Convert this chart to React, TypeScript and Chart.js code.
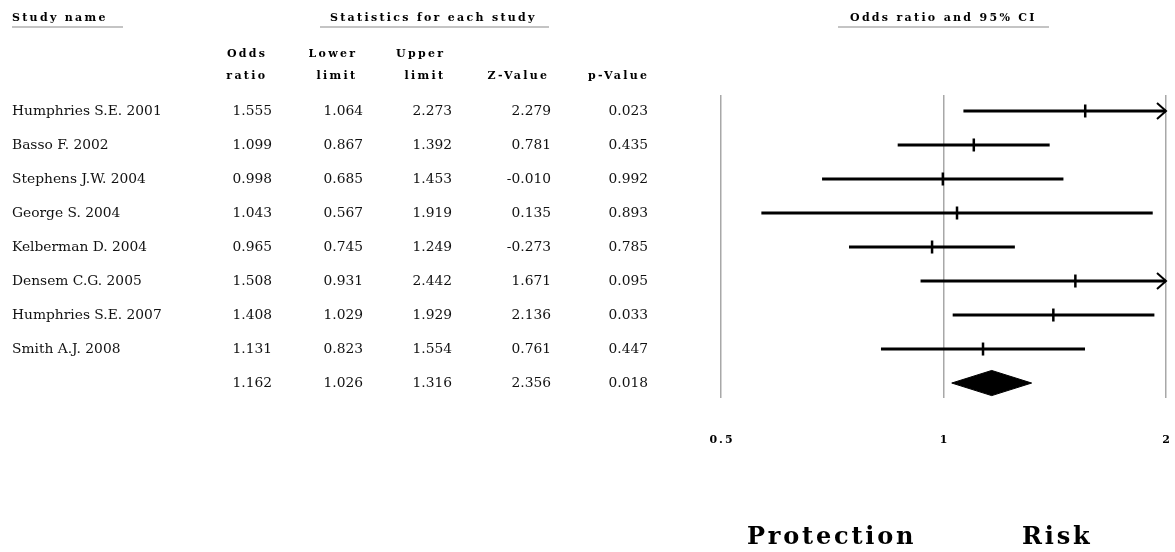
import React, { useEffect, useRef } from "react";
import { Chart, registerables } from "chart.js";

Chart.register(...registerables);

// ---------------- data ----------------
const studyNames = [
  "Humphries S.E. 2001",
  "Basso F. 2002",
  "Stephens J.W. 2004",
  "George S. 2004",
  "Kelberman D. 2004",
  "Densem C.G. 2005",
  "Humphries S.E. 2007",
  "Smith A.J. 2008",
];
const oddsRatios = [1.555, 1.099, 0.998, 1.043, 0.965, 1.508, 1.408, 1.131];
const lowerLimits = [1.064, 0.867, 0.685, 0.567, 0.745, 0.931, 1.029, 0.823];
const upperLimits = [2.273, 1.392, 1.453, 1.919, 1.249, 2.442, 1.929, 1.554];
const zValues = [2.279, 0.781, -0.01, 0.135, -0.273, 1.671, 2.136, 0.761];
const pValues = [0.023, 0.435, 0.992, 0.893, 0.785, 0.095, 0.033, 0.447];
// pooled: odds ratio, lower, upper, Z, p
const summaryStats = [1.162, 1.026, 1.316, 2.356, 0.018];

const xTickValues = [0.5, 1, 2];
const xTickLabels = ["0.5", "1", "2"];
const groupTitles = ["Study name", "Statistics for each study", "Odds ratio and 95% CI"];
const columnHeaderTop = ["Odds", "Lower", "Upper", "", ""];
const columnHeaderBottom = ["ratio", "limit", "limit", "Z-Value", "p-Value"];
const directionLabels = ["Protection", "Risk"];

// ---------------- layout / style constants ----------------
const W = 1175;
const H = 552;
const X_MIN = 0.5;
const X_MAX = 2;
const SUMMARY_ROW = studyNames.length;
const DIAMOND_HALF = 0.37;
const FONT = "'DejaVu Serif', 'Liberation Serif', serif";
const NUM_RIGHT = [272, 363, 452, 551, 648];
const HEAD_RIGHT = [265, 355, 443, 547, 647];
const TITLE_X = [12, 330, 850];
const UNDERLINES = [
  [12, 123],
  [320, 549],
  [838, 1049],
];
const DIRECTION_X = [747, 1022];
const TICK_LABEL_Y = 440;

const tablePlugin = {
  id: "forestTable",
  beforeDraw(chart: any) {
    const ctx = chart.ctx;
    ctx.save();
    ctx.fillStyle = "#fff";
    ctx.fillRect(0, 0, chart.width, chart.height);
    ctx.restore();
  },
  afterDatasetsDraw(chart: any) {
    const ctx = chart.ctx as CanvasRenderingContext2D;
    const xs = chart.scales.x;
    const ys = chart.scales.y;
    ctx.save();
    ctx.strokeStyle = "#000";
    ctx.lineWidth = 2;
    upperLimits.forEach((u, i) => {
      if (u > X_MAX) {
        const tip = xs.getPixelForValue(X_MAX);
        const y = ys.getPixelForValue(i);
        ctx.beginPath();
        ctx.moveTo(tip - 9, y - 8);
        ctx.lineTo(tip, y);
        ctx.lineTo(tip - 9, y + 8);
        ctx.stroke();
      }
    });
    ctx.restore();
  },
  afterDraw(chart: any) {
    const ctx = chart.ctx as CanvasRenderingContext2D;
    const xs = chart.scales.x;
    const ys = chart.scales.y;
    ctx.save();
    ctx.fillStyle = "#000";
    ctx.textBaseline = "middle";

    // x tick labels taken from the log scale's ticks
    ctx.font = `bold 11px ${FONT}`;
    (ctx as any).letterSpacing = "2px";
    ctx.textAlign = "left";
    xs.ticks.forEach((t: any) => {
      const idx = xTickValues.indexOf(t.value);
      if (idx >= 0) {
        const label = xTickLabels[idx];
        const w = ctx.measureText(label).width;
        ctx.fillText(label, xs.getPixelForValue(t.value) - (w - 2) / 2, TICK_LABEL_Y);
      }
    });

    // group titles
    const hs = 2.3;
    (ctx as any).letterSpacing = `${hs}px`;
    ctx.textAlign = "left";
    groupTitles.forEach((t, i) => ctx.fillText(t, TITLE_X[i], 18));
    ctx.strokeStyle = "#c4c4c4";
    ctx.lineWidth = 2;
    UNDERLINES.forEach(([a, b]) => {
      ctx.beginPath();
      ctx.moveTo(a, 27);
      ctx.lineTo(b, 27);
      ctx.stroke();
    });

    // column headers
    ctx.textAlign = "right";
    columnHeaderTop.forEach((t, i) => {
      if (t) ctx.fillText(t, HEAD_RIGHT[i] + hs, 54);
    });
    columnHeaderBottom.forEach((t, i) => {
      if (t) ctx.fillText(t, HEAD_RIGHT[i] + hs, 76);
    });

    // rows
    (ctx as any).letterSpacing = "0px";
    ctx.font = `13.8px ${FONT}`;
    ctx.fillStyle = "#111";
    studyNames.forEach((name, i) => {
      const y = ys.getPixelForValue(i);
      ctx.textAlign = "left";
      ctx.fillText(name, 12, y);
      ctx.textAlign = "right";
      const vals = [oddsRatios[i], lowerLimits[i], upperLimits[i], zValues[i], pValues[i]];
      vals.forEach((v, c) => ctx.fillText(v.toFixed(3), NUM_RIGHT[c], y));
    });
    const ySum = ys.getPixelForValue(SUMMARY_ROW);
    ctx.textAlign = "right";
    summaryStats.forEach((v, c) => ctx.fillText(v.toFixed(3), NUM_RIGHT[c], ySum));

    // direction labels
    const ds = 2.8;
    ctx.fillStyle = "#000";
    ctx.font = `bold 24px ${FONT}`;
    (ctx as any).letterSpacing = `${ds}px`;
    ctx.textAlign = "left";
    directionLabels.forEach((t, i) => ctx.fillText(t, DIRECTION_X[i], 538));
    ctx.restore();
  },
};

export default function App() {
  const canvasRef = useRef<HTMLCanvasElement | null>(null);

  useEffect(() => {
    document.body.style.margin = "0";
    const canvas = canvasRef.current;
    if (!canvas) return;

    const datasets: any[] = [];
    studyNames.forEach((name, i) => {
      datasets.push({
        type: "line",
        label: name,
        data: [
          { x: lowerLimits[i], y: i },
          { x: Math.min(upperLimits[i], X_MAX), y: i },
        ],
        borderColor: "#000",
        borderWidth: 3,
        pointRadius: 0,
        fill: false,
      });
    });
    datasets.push({
      type: "scatter",
      label: "Odds ratio",
      data: oddsRatios.map((v, i) => ({ x: v, y: i })),
      pointStyle: "line",
      rotation: 90,
      radius: 6.5,
      borderWidth: 2.5,
      borderColor: "#000",
      backgroundColor: "#000",
    });
    datasets.push({
      type: "line",
      label: "Pooled upper",
      data: [
        { x: summaryStats[1], y: SUMMARY_ROW },
        { x: summaryStats[0], y: SUMMARY_ROW - DIAMOND_HALF },
        { x: summaryStats[2], y: SUMMARY_ROW },
      ],
      borderColor: "#000",
      borderWidth: 1,
      pointRadius: 0,
      fill: false,
    });
    datasets.push({
      type: "line",
      label: "Pooled lower",
      data: [
        { x: summaryStats[1], y: SUMMARY_ROW },
        { x: summaryStats[0], y: SUMMARY_ROW + DIAMOND_HALF },
        { x: summaryStats[2], y: SUMMARY_ROW },
      ],
      borderColor: "#000",
      backgroundColor: "#000",
      borderWidth: 1,
      pointRadius: 0,
      fill: "-1",
    });

    const chart = new Chart(canvas, {
      type: "line",
      data: { datasets },
      options: {
        animation: false,
        responsive: false,
        devicePixelRatio: 1,
        layout: { padding: { left: 721, right: 9, top: 95, bottom: 154 } },
        plugins: {
          legend: { display: false },
          tooltip: { enabled: false },
        },
        scales: {
          x: {
            type: "logarithmic",
            min: X_MIN,
            max: X_MAX,
            position: "bottom",
            border: { display: false },
            grid: { color: "#a8a8a8", lineWidth: 1.5, drawTicks: false },
            afterBuildTicks: (axis: any) => {
              axis.ticks = xTickValues.map((v) => ({ value: v }));
            },
            ticks: { display: false },
          },
          y: {
            type: "linear",
            display: false,
            reverse: true,
            min: -0.47,
            max: 8.44,
          },
        },
      } as any,
      plugins: [tablePlugin],
    });
    return () => chart.destroy();
  }, []);

  return (
    <div style={{ width: `${W}px`, height: `${H}px`, background: "#fff" }}>
      <canvas ref={canvasRef} width={W} height={H} style={{ display: "block" }} />
    </div>
  );
}
